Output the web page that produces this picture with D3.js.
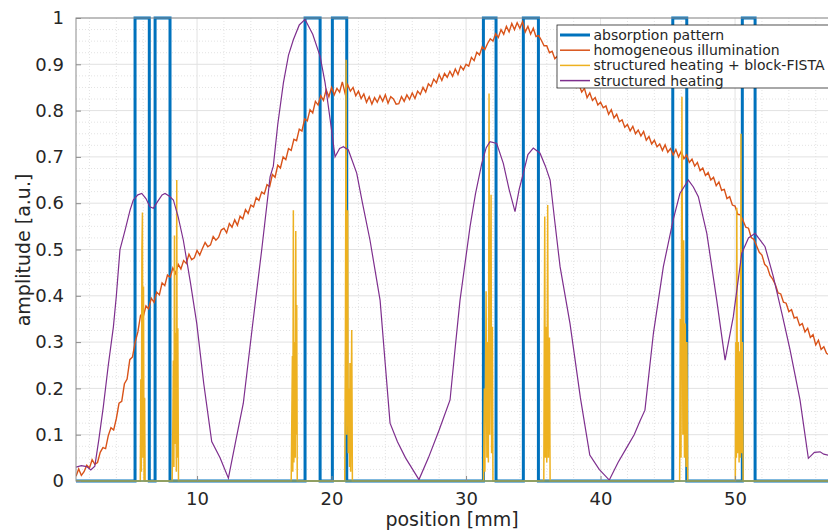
<!DOCTYPE html>
<html><head><meta charset="utf-8">
<script src="https://cdn.jsdelivr.net/npm/d3@7/dist/d3.min.js"></script>
<style>
html,body{margin:0;padding:0;background:#fff;}
svg{display:block;font-family:"DejaVu Sans",sans-serif;}
</style></head>
<body>
<svg id="chart" width="828" height="532"></svg>
<script>
// ---------- data ----------
const xTicks = [10, 20, 30, 40, 50];
const yTicks = [0, 0.1, 0.2, 0.3, 0.4, 0.5, 0.6, 0.7, 0.8, 0.9, 1];
const yTickLabels = ["0","0.1","0.2","0.3","0.4","0.5","0.6","0.7","0.8","0.9","1"];
const seriesNames = ["absorption pattern","homogeneous illumination","structured heating + block-FISTA","structured heating"];

// absorption pattern: pulses [start, end] in mm (value 1 inside, 0 outside)
const absorptionPulses = [[5.39,6.45],[6.88,7.99],[18.03,19.15],[20.06,21.13],[31.29,32.23],[34.26,35.38],[45.37,46.41],[50.54,51.49]];

// homogeneous illumination: samples from 1 mm every 0.2 mm
const homogStart = 1.0, homogStep = 0.2;
const homogeneous = [
0.010,0.026,0.012,0.020,0.034, 0.028,0.046,0.036,0.040,0.062,
0.072,0.070,0.098,0.115,0.110, 0.135,0.168,0.172,0.210,0.220,
0.262,0.268,0.300,0.322,0.358, 0.355,0.378,0.372,0.395,0.386,
0.408,0.402,0.428,0.422,0.445, 0.440,0.460,0.448,0.468,0.458,
0.476,0.470,0.490,0.478,0.482, 0.498,0.488,0.502,0.515,0.506,
0.510,0.528,0.520,0.526,0.542, 0.546,0.536,0.556,0.548,0.564,
0.552,0.572,0.566,0.586,0.578, 0.596,0.592,0.612,0.606,0.624,
0.620,0.640,0.636,0.662,0.656, 0.682,0.676,0.700,0.694,0.718,
0.714,0.738,0.735,0.760,0.756, 0.782,0.778,0.802,0.795,0.820,
0.812,0.832,0.822,0.845,0.830, 0.850,0.834,0.848,0.840,0.862,
0.838,0.856,0.842,0.850,0.832, 0.842,0.826,0.836,0.818,0.830,
0.814,0.828,0.818,0.832,0.820, 0.834,0.816,0.830,0.825,0.814,
0.815,0.830,0.820,0.834,0.824, 0.838,0.826,0.842,0.835,0.850,
0.840,0.858,0.852,0.868,0.860, 0.878,0.865,0.880,0.872,0.885,
0.874,0.890,0.878,0.896,0.888, 0.900,0.896,0.915,0.908,0.926,
0.920,0.938,0.932,0.945,0.955, 0.950,0.966,0.958,0.975,0.965,
0.982,0.970,0.988,0.975,0.990, 0.978,0.992,0.970,0.982,0.965,
0.978,0.960,0.962,0.952,0.940, 0.940,0.925,0.928,0.912,0.918,
0.898,0.902,0.882,0.885,0.862, 0.868,0.850,0.856,0.840,0.848,
0.828,0.838,0.822,0.828,0.812, 0.818,0.806,0.810,0.792,0.802,
0.784,0.792,0.776,0.780,0.764, 0.770,0.756,0.766,0.750,0.758,
0.745,0.755,0.736,0.744,0.728, 0.736,0.722,0.728,0.714,0.726,
0.710,0.718,0.704,0.716,0.700, 0.712,0.696,0.704,0.688,0.695,
0.680,0.688,0.670,0.676,0.660, 0.666,0.650,0.656,0.638,0.646,
0.628,0.630,0.610,0.614,0.596, 0.594,0.576,0.575,0.562,0.548,
0.546,0.526,0.522,0.508,0.494, 0.488,0.468,0.462,0.444,0.436,
0.424,0.406,0.404,0.386,0.384, 0.366,0.370,0.352,0.354,0.336,
0.340,0.322,0.330,0.310,0.316, 0.294,0.304,0.284,0.290,0.276,
0.272
];

// structured heating + block-FISTA: [position, amplitude]
const fista = [
[1,0],
[5.78,0],[5.82,0.22],[5.86,0.02],[5.90,0.50],[5.94,0.58],[5.98,0.05],[6.02,0.42],[6.06,0.0],[6.10,0.18],[6.14,0],
[8.15,0],[8.20,0.12],[8.24,0.26],[8.28,0.03],[8.32,0.53],[8.36,0.08],[8.42,0.32],[8.46,0.02],[8.49,0.65],[8.53,0.05],[8.57,0.33],[8.62,0],
[17.00,0],[17.05,0.15],[17.09,0.27],[17.12,0.02],[17.16,0.585],[17.20,0.04],[17.26,0.30],[17.30,0.05],[17.34,0.54],[17.38,0.10],[17.41,0.38],[17.45,0],
[20.98,0],[21.03,0.30],[21.08,0.91],[21.12,0.10],[21.20,0.585],[21.24,0.06],[21.30,0.20],[21.34,0.03],[21.37,0.255],[21.42,0.02],[21.50,0.326],[21.55,0],
[31.30,0],[31.36,0.20],[31.40,0.02],[31.49,0.41],[31.55,0.05],[31.62,0.30],[31.66,0.04],[31.71,0.837],[31.76,0.10],[31.86,0.618],[31.90,0.06],[31.96,0.333],[32.00,0],
[35.78,0],[35.85,0.571],[35.90,0.05],[35.95,0.333],[36.00,0.04],[36.07,0.596],[36.12,0.05],[36.20,0.31],[36.25,0],
[45.88,0],[45.93,0.35],[45.98,0.05],[46.05,0.83],[46.12,0.10],[46.18,0.52],[46.24,0.05],[46.30,0.34],[46.36,0.03],[46.42,0.30],[46.48,0],
[50.02,0],[50.06,0.30],[50.10,0.05],[50.13,0.59],[50.18,0.06],[50.24,0.30],[50.30,0.04],[50.36,0.28],[50.40,0.05],[50.44,0.75],[50.49,0.06],[50.55,0.30],[50.60,0],
[57,0]
];

// structured heating: [position, amplitude]
const structured = [
[1.0,0.030],[1.4,0.033],[1.8,0.031],[2.1,0.024],[2.4,0.032],[2.7,0.09],[3.03,0.16],[3.4,0.25],[3.78,0.333],[4.0,0.40],
[4.27,0.50],[4.65,0.542],[5.02,0.585],[5.26,0.607],[5.6,0.618],[5.89,0.621],[6.2,0.61],[6.5,0.592],[6.75,0.589],[7.1,0.605],
[7.4,0.618],[7.62,0.621],[7.95,0.615],[8.24,0.607],[8.6,0.57],[8.98,0.52],[9.5,0.43],[9.98,0.34],[10.5,0.21],[11.09,0.085],
[11.71,0.05],[12.33,0.006],[12.9,0.09],[13.44,0.168],[14.1,0.33],[14.81,0.50],[15.43,0.657],[15.67,0.68],[16.0,0.77],[16.42,0.86],
[16.8,0.92],[17.16,0.953],[17.6,0.985],[18.03,0.997],[18.6,0.965],[19.15,0.917],[19.52,0.86],[19.9,0.78],[20.26,0.70],[20.6,0.718],
[20.88,0.722],[21.25,0.715],[21.87,0.665],[22.3,0.60],[22.86,0.52],[23.61,0.39],[24.0,0.25],[24.35,0.125],[24.9,0.085],[25.5,0.05],
[26.5,0.003],[27.2,0.05],[28.0,0.11],[28.81,0.175],[29.2,0.29],[29.55,0.39],[30.3,0.55],[30.7,0.62],[31.17,0.686],[31.5,0.72],
[31.78,0.733],[32.28,0.729],[32.77,0.686],[33.2,0.63],[33.64,0.582],[33.95,0.63],[34.26,0.665],[34.6,0.705],[35.0,0.719],[35.5,0.708],
[35.9,0.68],[36.25,0.65],[36.6,0.56],[36.99,0.463],[37.73,0.34],[38.5,0.18],[39.2,0.056],[39.9,0.025],[40.65,0.002],[41.3,0.04],
[41.9,0.07],[42.5,0.10],[42.94,0.13],[43.3,0.153],[43.93,0.319],[44.67,0.463],[45.4,0.564],[45.9,0.621],[46.53,0.65],[46.9,0.635],
[47.27,0.614],[47.9,0.535],[48.64,0.39],[49.26,0.261],[49.87,0.355],[50.5,0.492],[51.0,0.525],[51.49,0.535],[52.23,0.506],[52.85,0.441],
[53.5,0.36],[54.09,0.283],[54.83,0.175],[55.45,0.049],[55.9,0.062],[56.32,0.063],[56.6,0.058],[57.0,0.055]
];

// extra zero trace along the baseline
const baseline = [[1,0],[57,0]];

// ---------- drawing ----------
const svg = d3.select("#chart");
const L = 76, R = 829.2, T = 18, B = 481;
const x = d3.scaleLinear().domain([1, 57]).range([L, R]);
const y = d3.scaleLinear().domain([0, 1]).range([B, T]);
const colors = ["#0072BD","#D95319","#EDB120","#7E2F8E","#77AC30"];
const textCol = "#262626";

// grid minor
const gMinor = svg.append("g");
gMinor.selectAll("line.mx").data(d3.range(2, 57, 2).filter(v => v % 10 !== 0)).join("line")
  .attr("x1", d => x(d)).attr("x2", d => x(d)).attr("y1", T).attr("y2", B)
  .attr("stroke", "#e3e3e3").attr("stroke-width", 1).attr("stroke-dasharray", "1,2");
gMinor.selectAll("line.my").data(d3.range(0, 41).map(i => i / 40).filter((v, i) => i % 4 !== 0)).join("line")
  .attr("x1", L).attr("x2", R).attr("y1", d => y(d)).attr("y2", d => y(d))
  .attr("stroke", "#e3e3e3").attr("stroke-width", 1).attr("stroke-dasharray", "1,2");
// grid major
const gMajor = svg.append("g");
gMajor.selectAll("line.gx").data(xTicks).join("line")
  .attr("x1", d => x(d)).attr("x2", d => x(d)).attr("y1", T).attr("y2", B)
  .attr("stroke", "#e2e2e2").attr("stroke-width", 1);
gMajor.selectAll("line.gy").data(yTicks).join("line")
  .attr("x1", L).attr("x2", R).attr("y1", d => y(d)).attr("y2", d => y(d))
  .attr("stroke", "#e2e2e2").attr("stroke-width", 1);

// clip
svg.append("clipPath").attr("id", "clip").append("rect")
  .attr("x", L).attr("y", T - 3).attr("width", R - L).attr("height", B - T + 6);
const plot = svg.append("g").attr("clip-path", "url(#clip)");

const line = d3.line().x(d => x(d[0])).y(d => y(d[1]));

// absorption pattern as step trace
const absPts = [[1, 0]];
absorptionPulses.forEach(([s, e]) => { absPts.push([s, 0], [s, 1], [e, 1], [e, 0]); });
absPts.push([57, 0]);
plot.append("path").datum(absPts).attr("d", line)
  .attr("fill", "none").attr("stroke", colors[0]).attr("stroke-width", 3).attr("stroke-linejoin", "miter");

const homogPts = homogeneous.map((v, i) => [homogStart + i * homogStep, v]);
plot.append("path").datum(homogPts).attr("d", line)
  .attr("fill", "none").attr("stroke", colors[1]).attr("stroke-width", 1.4);

plot.append("path").datum(fista).attr("d", line)
  .attr("fill", "none").attr("stroke", colors[2]).attr("stroke-width", 1.5);

plot.append("path").datum(structured).attr("d", line)
  .attr("fill", "none").attr("stroke", colors[3]).attr("stroke-width", 1.2);

plot.append("path").datum(baseline).attr("d", line)
  .attr("fill", "none").attr("stroke", colors[4]).attr("stroke-width", 1.5);

// axes box
svg.append("rect").attr("x", L).attr("y", T).attr("width", R - L).attr("height", B - T)
  .attr("fill", "none").attr("stroke", "#8c8c8c").attr("stroke-width", 1);

// x axis
const xAxis = d3.axisBottom(x).tickValues(xTicks).tickSizeInner(-5).tickSizeOuter(0).tickPadding(11).tickFormat(d3.format("d"));
const gx = svg.append("g").attr("transform", `translate(0,${B})`).call(xAxis);
gx.select(".domain").remove();
gx.selectAll(".tick line").attr("stroke", "#8c8c8c");
gx.selectAll(".tick text").attr("fill", textCol).attr("font-size", 18).attr("font-family", "DejaVu Sans");

// y axis
const yAxis = d3.axisLeft(y).tickValues(yTicks).tickSizeInner(-5).tickSizeOuter(0).tickPadding(12)
  .tickFormat((d, i) => yTickLabels[i]);
const gy = svg.append("g").attr("transform", `translate(${L},0)`).call(yAxis);
gy.select(".domain").remove();
gy.selectAll(".tick line").attr("stroke", "#8c8c8c");
gy.selectAll(".tick text").attr("fill", textCol).attr("font-size", 18).attr("font-family", "DejaVu Sans");

// axis labels
svg.append("text").attr("x", 452).attr("y", 526).attr("text-anchor", "middle")
  .attr("fill", textCol).attr("font-size", 19).text("position [mm]");
svg.append("text").attr("transform", "translate(30,250) rotate(-90)").attr("text-anchor", "middle")
  .attr("fill", textCol).attr("font-size", 19).text("amplitude [a.u.]");

// legend
const lg = svg.append("g");
lg.append("rect").attr("x", 557).attr("y", 25).attr("width", 290).attr("height", 63)
  .attr("fill", "#fff").attr("stroke", "#262626").attr("stroke-width", 0.8);
seriesNames.forEach((name, i) => {
  const cy = 35 + i * 15.2;
  lg.append("line").attr("x1", 560).attr("x2", 590).attr("y1", cy).attr("y2", cy)
    .attr("stroke", colors[i]).attr("stroke-width", i === 0 ? 3 : 1.5);
  lg.append("text").attr("x", 593.5).attr("y", cy).attr("dy", "0.35em")
    .attr("fill", textCol).attr("font-size", 14).text(name);
});
</script>
</body></html>
